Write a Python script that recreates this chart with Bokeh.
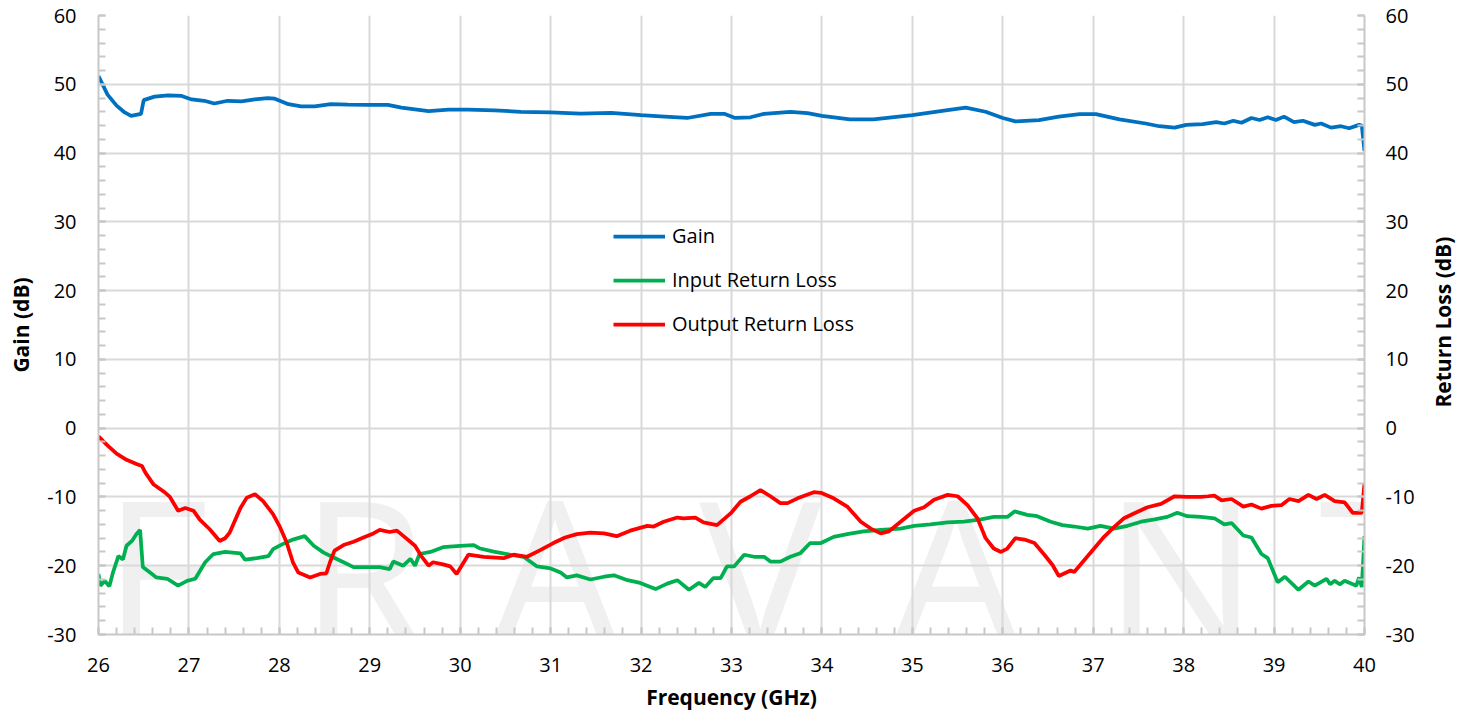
import math
from bokeh.plotting import figure
from bokeh.models import (Range1d, LinearAxis, SingleIntervalTicker, FixedTicker, Legend, LegendItem,
                          Label, PrintfTickFormatter, CustomJSTickFormatter)
from bokeh.embed import file_html
from bokeh.resources import INLINE

# ---------------- data ----------------
gain_f = [26.0, 26.1, 26.2, 26.29, 26.36, 26.47, 26.5, 26.62, 26.77, 26.92, 27.03, 27.17, 27.28, 27.43,
          27.58, 27.73, 27.87, 27.95, 28.1, 28.24, 28.39, 28.57, 28.76, 28.98, 29.2, 29.35, 29.65, 29.87,
          30.09, 30.38, 30.67, 31.0, 31.33, 31.67, 32.0, 32.26, 32.51, 32.77, 32.92, 33.04, 33.21, 33.36,
          33.65, 33.84, 34.0, 34.31, 34.57, 35.0, 35.37, 35.59, 35.81, 36.0, 36.14, 36.4, 36.62, 36.85,
          37.03, 37.29, 37.58, 37.73, 37.9, 38.03, 38.21, 38.36, 38.45, 38.55, 38.64, 38.75, 38.84, 38.93,
          39.02, 39.11, 39.22, 39.32, 39.45, 39.52, 39.63, 39.74, 39.83, 39.94, 39.97, 40.0]
gain_db = [51.2, 48.5, 46.9, 45.9, 45.4, 45.7, 47.7, 48.2, 48.4, 48.3, 47.8, 47.6, 47.2, 47.6,
           47.5, 47.8, 48.0, 47.9, 47.1, 46.8, 46.8, 47.1, 47.05, 47.0, 47.0, 46.6, 46.1, 46.3,
           46.3, 46.2, 46.0, 45.9, 45.75, 45.85, 45.5, 45.3, 45.1, 45.7, 45.7, 45.1, 45.2, 45.7,
           46.0, 45.8, 45.4, 44.9, 44.9, 45.5, 46.2, 46.6, 46.0, 45.1, 44.6, 44.8, 45.3, 45.65,
           45.65, 44.9, 44.3, 43.9, 43.7, 44.1, 44.2, 44.5, 44.3, 44.7, 44.4, 45.1, 44.8, 45.2,
           44.8, 45.3, 44.5, 44.7, 44.1, 44.3, 43.7, 43.9, 43.6, 44.1, 44.0, 40.3]

irl_f = [26.0, 26.02, 26.07, 26.12, 26.16, 26.22, 26.27, 26.31, 26.37, 26.42, 26.46, 26.49, 26.57, 26.64,
         26.76, 26.88, 26.98, 27.07, 27.18, 27.27, 27.4, 27.57, 27.62, 27.75, 27.88, 27.93, 28.03, 28.15,
         28.28, 28.38, 28.49, 28.6, 28.71, 28.82, 28.96, 29.11, 29.22, 29.26, 29.37, 29.45, 29.5, 29.55,
         29.67, 29.81, 30.0, 30.15, 30.22, 30.37, 30.55, 30.7, 30.85, 31.0, 31.11, 31.18, 31.29, 31.44,
         31.59, 31.7, 31.85, 31.99, 32.16, 32.29, 32.4, 32.53, 32.64, 32.71, 32.8, 32.88, 32.95, 33.03,
         33.14, 33.25, 33.36, 33.43, 33.54, 33.65, 33.76, 33.87, 33.99, 34.13, 34.28, 34.46, 34.65, 34.87,
         35.02, 35.2, 35.39, 35.57, 35.76, 35.9, 36.05, 36.13, 36.27, 36.38, 36.53, 36.66, 36.79, 36.94,
         37.08, 37.23, 37.38, 37.53, 37.68, 37.82, 37.93, 38.04, 38.19, 38.34, 38.45, 38.53, 38.66, 38.75,
         38.86, 38.93, 39.04, 39.12, 39.27, 39.38, 39.45, 39.58, 39.62, 39.67, 39.73, 39.78, 39.91, 39.94,
         39.97, 40.0]
irl_db = [-21.2, -22.9, -22.2, -23.0, -21.0, -18.6, -19.1, -17.1, -16.4, -15.4, -14.8, -20.2, -21.0, -21.7,
          -21.9, -22.9, -22.2, -21.9, -19.5, -18.3, -18.0, -18.2, -19.1, -18.9, -18.6, -17.6, -16.9, -16.2,
          -15.7, -17.1, -18.1, -18.8, -19.5, -20.2, -20.2, -20.2, -20.5, -19.4, -20.0, -19.0, -20.0, -18.3,
          -18.0, -17.3, -17.1, -17.0, -17.5, -17.96, -18.4, -18.7, -20.1, -20.4, -21.0, -21.7, -21.4, -22.0,
          -21.6, -21.4, -22.1, -22.5, -23.4, -22.6, -22.1, -23.5, -22.5, -23.1, -21.8, -21.8, -20.1, -20.1,
          -18.4, -18.7, -18.7, -19.4, -19.4, -18.7, -18.2, -16.7, -16.7, -15.8, -15.4, -15.0, -14.8, -14.6,
          -14.2, -14.0, -13.7, -13.6, -13.25, -12.9, -12.9, -12.1, -12.6, -12.8, -13.6, -14.1, -14.3, -14.6,
          -14.2, -14.6, -14.2, -13.6, -13.25, -12.9, -12.3, -12.8, -12.9, -13.1, -14.0, -13.8, -15.6, -15.9,
          -18.3, -18.9, -22.4, -21.6, -23.5, -22.3, -22.9, -21.9, -22.7, -22.2, -22.7, -22.2, -22.9, -21.7,
          -23.1, -15.7]

orl_f = [26.0, 26.09, 26.2, 26.31, 26.42, 26.48, 26.52, 26.61, 26.72, 26.79, 26.88, 26.96, 27.05, 27.12,
         27.23, 27.34, 27.4, 27.45, 27.57, 27.64, 27.73, 27.82, 27.93, 28.0, 28.08, 28.15, 28.21, 28.34,
         28.45, 28.52, 28.56, 28.61, 28.71, 28.82, 28.93, 29.04, 29.11, 29.22, 29.3, 29.41, 29.5, 29.57,
         29.65, 29.7, 29.81, 29.89, 29.96, 30.09, 30.26, 30.48, 30.59, 30.74, 30.89, 31.03, 31.16, 31.29,
         31.44, 31.59, 31.73, 31.88, 32.07, 32.14, 32.25, 32.4, 32.47, 32.6, 32.69, 32.84, 32.99, 33.1,
         33.21, 33.32, 33.43, 33.54, 33.62, 33.73, 33.91, 33.99, 34.13, 34.28, 34.43, 34.54, 34.65, 34.74,
         34.87, 35.02, 35.13, 35.24, 35.39, 35.5, 35.61, 35.72, 35.81, 35.9, 35.98, 36.05, 36.14, 36.24,
         36.35, 36.46, 36.55, 36.62, 36.75, 36.79, 36.9, 37.01, 37.12, 37.23, 37.34, 37.45, 37.6, 37.75,
         37.9, 38.04, 38.19, 38.27, 38.34, 38.42, 38.53, 38.66, 38.75, 38.86, 38.97, 39.08, 39.17, 39.27,
         39.38, 39.47, 39.56, 39.67, 39.78, 39.87, 39.97, 40.0]
orl_db = [-1.2, -2.4, -3.7, -4.6, -5.2, -5.5, -6.5, -8.2, -9.2, -10.0, -12.0, -11.6, -12.0, -13.3,
          -14.7, -16.4, -16.0, -15.2, -11.6, -10.1, -9.6, -10.6, -12.5, -14.2, -16.6, -19.5, -21.0, -21.7,
          -21.2, -21.1, -19.5, -17.8, -17.0, -16.5, -15.9, -15.3, -14.8, -15.1, -14.9, -16.1, -17.1, -18.6,
          -20.0, -19.5, -19.8, -20.1, -21.2, -18.4, -18.7, -18.9, -18.4, -18.7, -17.7, -16.7, -15.9, -15.4,
          -15.2, -15.3, -15.7, -14.9, -14.2, -14.3, -13.6, -13.0, -13.1, -13.0, -13.7, -14.1, -12.4, -10.7,
          -9.9, -9.0, -9.9, -10.9, -10.9, -10.2, -9.3, -9.4, -10.2, -11.4, -13.6, -14.6, -15.3, -15.0,
          -13.6, -12.0, -11.5, -10.4, -9.7, -9.9, -11.2, -13.1, -16.0, -17.5, -18.0, -17.5, -16.0, -16.2,
          -16.7, -18.4, -19.9, -21.5, -20.7, -20.9, -19.2, -17.5, -15.8, -14.4, -13.1, -12.4, -11.5, -11.0,
          -9.9, -10.0, -10.0, -9.9, -9.8, -10.5, -10.3, -11.4, -11.1, -11.7, -11.3, -11.2, -10.3, -10.6,
          -9.7, -10.3, -9.7, -10.6, -10.8, -12.3, -12.3, -8.0]

series_names = ["Gain", "Input Return Loss", "Output Return Loss"]
series_colors = ["#0070C0", "#00B050", "#FF0000"]
right_axis_title = "Return Loss (dB)"
watermark_letters = ["E", "R", "A", "V", "A", "N", "T"]
watermark_x = [26.68, 28.93, 31.05, 33.32, 35.48, 37.97, 40.12]

# ---------------- figure ----------------
GRID = "#d9d9d9"
AXIS = "#c8c8c8"
FONT = "Open Sans"

p = figure(frame_width=1266, frame_height=619, x_range=Range1d(26, 40), y_range=Range1d(-30, 60),
           output_backend="svg", toolbar_location=None,
           min_border_left=98, min_border_right=86, min_border_top=15, min_border_bottom=83)
p.outline_line_color = None
p.background_fill_color = "white"
p.border_fill_color = "white"

# watermark (behind the grid)
marks = [Label(x=wx, y=-0.3, text=letter, text_font=FONT, text_font_size="205px",
               text_color="#f0f0f0", text_align="center", text_baseline="top",
               level="underlay")
         for letter, wx in zip(watermark_letters, watermark_x)]
p.center = marks + list(p.center)

xt = SingleIntervalTicker(interval=1, num_minor_ticks=5)
yt = SingleIntervalTicker(interval=10, num_minor_ticks=5)
p.xaxis.ticker = xt
p.yaxis.ticker = yt
p.xgrid.ticker = xt
p.ygrid.ticker = yt
for g in (p.xgrid, p.ygrid):
    g.grid_line_color = GRID
    g.grid_line_width = 2

p.add_layout(LinearAxis(ticker=yt), "right")

for ax in p.axis:
    ax.formatter = PrintfTickFormatter(format="%d")
    ax.axis_line_color = AXIS
    ax.axis_line_width = 2
    ax.major_tick_line_color = AXIS
    ax.major_tick_line_width = 2
    ax.major_tick_in = 7
    ax.major_tick_out = 0
    ax.minor_tick_line_color = AXIS
    ax.minor_tick_line_width = 2
    ax.minor_tick_in = 7
    ax.minor_tick_out = 0
    ax.major_label_text_font = FONT
    ax.major_label_text_font_size = "20px"
    ax.major_label_text_color = "#000000"
    ax.axis_label_text_font = FONT
    ax.axis_label_text_font_size = "21px"
    ax.axis_label_text_font_style = "bold"
    ax.axis_label_text_color = "#000000"

p.xaxis.axis_label = "Frequency (GHz)"
p.xaxis.major_label_standoff = 23
p.xaxis.axis_label_standoff = 8
p.yaxis[0].axis_label = "Gain (dB)"
p.yaxis[0].major_label_standoff = 22
p.yaxis[0].axis_label_standoff = 9
p.yaxis[1].major_label_standoff = 21

# right-hand axis title (reads bottom to top), drawn as the only label of a bare outer axis
title_axis = LinearAxis(ticker=FixedTicker(ticks=[3.0]),
                        formatter=CustomJSTickFormatter(args=dict(t=right_axis_title), code="return t;"),
                        axis_line_color=None, major_tick_line_color=None, minor_tick_line_color=None,
                        major_label_orientation=math.pi / 2, major_label_standoff=20,
                        major_label_text_font=FONT, major_label_text_font_size="21px",
                        major_label_text_font_style="bold", major_label_text_color="#000000")
p.add_layout(title_axis, "right")

r_gain = p.line(gain_f, gain_db, line_color=series_colors[0], line_width=3.75)
r_irl = p.line(irl_f, irl_db, line_color=series_colors[1], line_width=3.75)
r_orl = p.line(orl_f, orl_db, line_color=series_colors[2], line_width=3.75)

legend = Legend(items=[LegendItem(label=series_names[0], renderers=[r_gain]),
                       LegendItem(label=series_names[1], renderers=[r_irl]),
                       LegendItem(label=series_names[2], renderers=[r_orl])],
                location=(515, 297), background_fill_alpha=0, border_line_color=None,
                padding=0, margin=0, spacing=17, glyph_width=52, glyph_height=20,
                label_height=20, label_standoff=7, label_text_font=FONT,
                label_text_font_size="20px", label_text_color="#000000")
p.add_layout(legend)

open("out.html", "w").write(file_html(p, INLINE))
